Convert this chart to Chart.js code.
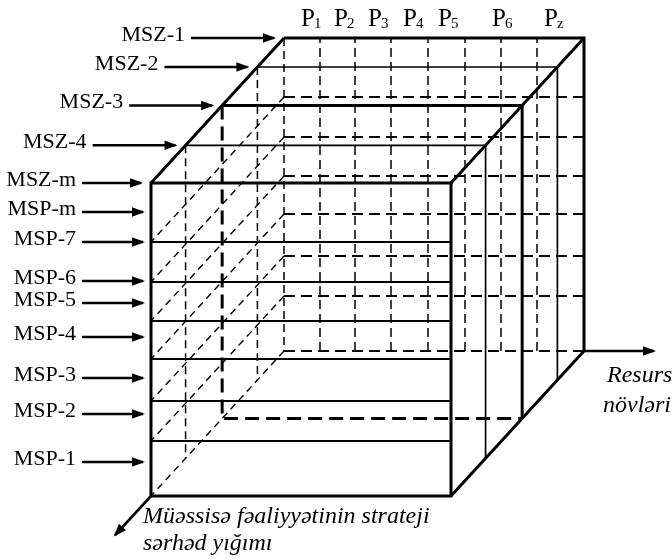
<!DOCTYPE html>
<html>
<head>
<meta charset="utf-8">
<script src="https://cdn.jsdelivr.net/npm/chart.js@4"></script>
<style>
  html, body { margin: 0; background: #fff; }
</style>
</head>
<body>
<canvas id="grafica" width="672" height="560"></canvas>
<script>
// cube size in model units (resource axis x activity levels)
const cubeWidth = 300;
const cubeHeight = 313;
// activity planes (MSP) measured up from the cube bottom
const levelHeights = [55, 95, 137, 175, 214, 254];
// resource column edges along the back face
const resourceEdges = [0, 36, 71, 107, 144, 181, 217, 253, 300];
const resourceSubs = ['1', '2', '3', '4', '5', '6', 'z'];
// depth slices, 0 = back face, 1 = front face
const sliceLabels = ['MSZ-1', 'MSZ-2', 'MSZ-3', 'MSZ-4', 'MSZ-m'];
const sliceDepths = [0, 0.2, 0.465, 0.74, 1];
// MSP pointers on the front face
const planeLabels = ['MSP-m', 'MSP-7', 'MSP-6', 'MSP-5', 'MSP-4', 'MSP-3', 'MSP-2', 'MSP-1'];
const planeArrowHeights = [284, 254, 215, 193, 159, 118, 82, 34];
const axisTitleRes = ['Resurs', 'növləri'];
const axisTitleDepth = ['Müəssisə fəaliyyətinin strateji', 'sərhəd yığımı'];

// oblique projection of the depth axis
const DX = -133, DY = -145;
const boldSlice = 2;
const FONT = '"Liberation Serif", "Times New Roman", serif';
const resLabelX = [18, 51, 85, 120, 155, 209, 261];

function pt(r, h, d) { return { x: r + DX * d, y: h + DY * d }; }
const GAP = { x: null, y: null };
function lines(segs) {
  const out = [];
  segs.forEach((s, i) => { if (i) out.push(GAP); out.push(...s); });
  return out;
}
function ds(data, width, dash, extra) {
  return Object.assign({
    data, showLine: true, borderColor: '#000', backgroundColor: '#000',
    borderWidth: width, borderDash: dash || [], pointRadius: 0, pointHoverRadius: 0,
    fill: false, tension: 0, spanGaps: false, clip: false,
    borderCapStyle: 'butt', borderJoinStyle: 'miter'
  }, extra || {});
}

const W = cubeWidth, H = cubeHeight;
const datasets = [];

// back face
datasets.push(ds([pt(0, H, 0), pt(W, H, 0), pt(W, 0, 0)], 3));
datasets.push(ds([pt(0, H, 0), pt(0, 0, 0)], 1.5, [8, 5]));
datasets.push(ds([pt(0, 0, 0), pt(W, 0, 0)], 2.2, [11, 6]));
datasets.push(ds(lines(levelHeights.map(h => [pt(0, h, 0), pt(W, h, 0)])), 2.2, [11, 6]));
datasets.push(ds(lines(resourceEdges.slice(1, -1).map(r => [pt(r, 0, 0), pt(r, H, 0)])), 1.5, [9, 5]));

// left side diagonals
datasets.push(ds(lines([0, ...levelHeights].map(h => [pt(0, h, 0), pt(0, h, 1)])), 1.4, [7, 5]));

// outer edges
datasets.push(ds(lines([
  [pt(0, H, 0), pt(0, H, 1)],
  [pt(W, H, 0), pt(W, H, 1)],
  [pt(W, 0, 0), pt(W, 0, 1)]
]), 3));

// inner slices
sliceDepths.forEach((d, i) => {
  if (i === 0 || i === sliceDepths.length - 1) return;
  if (i === boldSlice) {
    datasets.push(ds([pt(0, H, d), pt(W, H, d), pt(W, 0, d)], 3));
    datasets.push(ds([pt(0, H, d), pt(0, 0, d), pt(W, 0, d)], 3, [14, 7]));
  } else {
    datasets.push(ds([pt(0, H, d), pt(W, H, d), pt(W, 0, d)], 1.7));
    datasets.push(ds([pt(0, H, d), pt(0, 0, d)], 1.5, [8, 5]));
  }
});

// front face
datasets.push(ds(lines(levelHeights.map(h => [pt(0, h, 1), pt(W, h, 1)])), 1.8));
datasets.push(ds([pt(0, 0, 1), pt(W, 0, 1), pt(W, H, 1), pt(0, H, 1), pt(0, 0, 1)], 3));

// pointers
const arrowStartX = -202;
sliceDepths.forEach((d, i) => {
  const c = pt(0, H, d);
  const tipX = c.x - 10;
  const startX = Math.max(tipX - 83, arrowStartX);
  datasets.push(ds([{ x: startX, y: c.y }, { x: tipX, y: c.y }], 2.6, [], { arrow: true, label: sliceLabels[i] }));
});
planeArrowHeights.forEach((h, i) => {
  const c = pt(0, h, 1);
  datasets.push(ds([{ x: arrowStartX, y: c.y }, { x: c.x - 8, y: c.y }], 2.6, [], { arrow: true, label: planeLabels[i] }));
});

// axes
datasets.push(ds([pt(W, 0, 0), pt(W + 70, 0, 0)], 2.6, [], { arrow: true }));
datasets.push(ds([pt(0, 0, 1), pt(0, 0, 1.27)], 2.6, [], { arrow: true }));

const labelsPlugin = {
  id: 'labels',
  afterDatasetsDraw(chart) {
    const { ctx, scales: { x, y } } = chart;
    const X = v => x.getPixelForValue(v), Y = v => y.getPixelForValue(v);
    ctx.save();
    ctx.fillStyle = '#000';

    // arrowheads and pointer texts
    chart.data.datasets.forEach((d, i) => {
      if (!d.arrow) return;
      const pts = chart.getDatasetMeta(i).data;
      const a = pts[0], b = pts[pts.length - 1];
      const ang = Math.atan2(b.y - a.y, b.x - a.x);
      ctx.save();
      ctx.translate(b.x, b.y);
      ctx.rotate(ang);
      ctx.beginPath();
      ctx.moveTo(2, 0);
      ctx.lineTo(-11, -4.8);
      ctx.lineTo(-11, 4.8);
      ctx.closePath();
      ctx.fill();
      ctx.restore();
      if (d.label) {
        ctx.font = '22px ' + FONT;
        ctx.textAlign = 'right';
        ctx.textBaseline = 'middle';
        ctx.fillText(d.label, a.x - 6, a.y - 3);
      }
    });

    // resource labels P1..Pz
    ctx.textAlign = 'left';
    ctx.textBaseline = 'alphabetic';
    resourceSubs.forEach((s, i) => {
      const px = X(resLabelX[i]), py = Y(325);
      ctx.font = '25px ' + FONT;
      ctx.fillText('P', px - 1, py);
      const w = ctx.measureText('P').width;
      ctx.font = '15px ' + FONT;
      ctx.fillText(s, px - 1 + w - 1, py + 2);
    });

    // axis titles
    ctx.font = 'italic 24px ' + FONT;
    ctx.fillText(axisTitleRes[0], X(323), Y(-31));
    ctx.fillText(axisTitleRes[1], X(319), Y(-61));
    ctx.fillText(axisTitleDepth[0], X(-141), Y(-172));
    ctx.fillText(axisTitleDepth[1], X(-141), Y(-199));
    ctx.restore();
  }
};

new Chart(document.getElementById('grafica').getContext('2d'), {
  type: 'scatter',
  data: { datasets },
  options: {
    responsive: false,
    devicePixelRatio: 1,
    animation: false,
    layout: { padding: 0 },
    plugins: { legend: { display: false }, tooltip: { enabled: false } },
    events: [],
    scales: {
      x: { type: 'linear', min: -284, max: 388, display: false },
      y: { type: 'linear', min: -209, max: 351, display: false }
    }
  },
  plugins: [labelsPlugin]
});
</script>
</body>
</html>
